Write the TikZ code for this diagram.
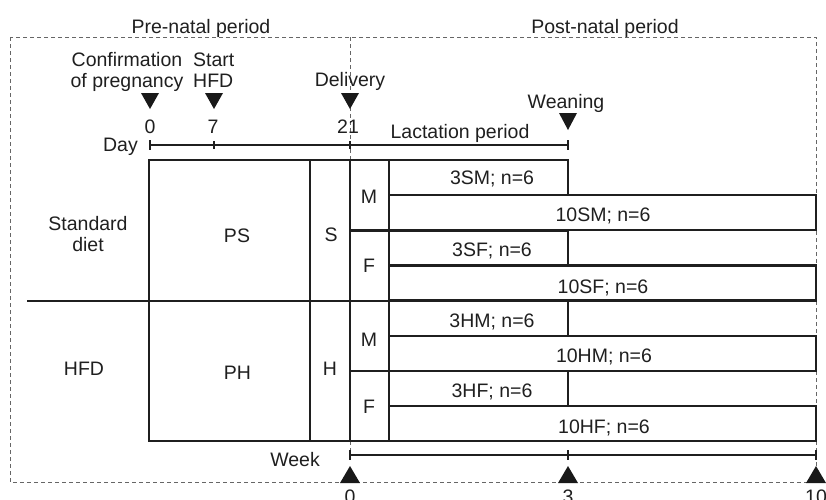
\documentclass[tikz,border=0pt]{standalone}
\usepackage{fontspec}
\setmainfont{Liberation Sans}
\begin{document}
\begin{tikzpicture}[x=1pt,y=-1pt,
  font=\fontsize{19.5}{21}\selectfont,
  boxline/.style={line width=2.7pt, draw=black!88, line cap=rect},
  axisline/.style={line width=2.4pt, draw=black!88},
  dashline/.style={draw=black!60, line width=0.9pt, dash pattern=on 4pt off 3pt},
  lbl/.style={inner sep=0pt, text=black!88, anchor=base},
  tri/.style={fill=black!90}]
\useasboundingbox (0,0) rectangle (826,499);

% dashed frame
\draw[dashline] (10,37) rectangle (816,482);
\draw[dashline] (350,37) -- (350,160);
\draw[dashline] (350,441) -- (350,455);

% titles
\node[lbl] (pre)  at (201,33) {Pre-natal period};
\node[lbl] (post) at (605,33) {Post-natal period};

% events
\node[lbl, align=center] (conf) at (127,87) {Confirmation\\of pregnancy};
\node[lbl, align=left, anchor=base west] (start) at (193,87) {Start\\HFD};
\node[lbl] (deliv) at (350,86) {Delivery};
\node[lbl] (wean) at (566,108) {Weaning};

% down triangles
\coordinate (t0) at (150,93);
\coordinate (t7) at (214,93);
\coordinate (t21) at (350,93);
\coordinate (tw) at (568,113);
\foreach \c in {t0,t7,t21}
  \fill[tri] ([xshift=-9pt]\c) -- ([xshift=9pt]\c) -- ([yshift=-16pt]\c) -- cycle;
\fill[tri] ([xshift=-9pt]tw) -- ([xshift=9pt]tw) -- ([yshift=-17pt]tw) -- cycle;

% day axis
\node[lbl] (d0) at (150,133) {0};
\node[lbl] (d7) at (213,133) {7};
\node[lbl] (d21) at (348,133) {21};
\node[lbl, anchor=base east] (day) at (138,151) {Day};
\node[lbl] (lact) at (460,138) {Lactation period};
\coordinate (a0) at (150,145);
\coordinate (a7) at (214,145);
\coordinate (a21) at (350,145);
\coordinate (aw) at (568,145);
\draw[axisline] (a0) -- (aw);
\draw[axisline] ([yshift=5pt]a0) -- ([yshift=-5pt]a0);
\draw[axisline] ([yshift=5pt]aw) -- ([yshift=-5pt]aw);
\draw[axisline] ([yshift=4pt]a7) -- ([yshift=-4pt]a7);
\draw[axisline] ([yshift=4pt]a21) -- ([yshift=-4pt]a21);

% main blocks
\draw[boxline] (149,160) rectangle (389,441);
\draw[boxline] (310,160) -- (310,441);
\draw[boxline] (350,160) -- (350,441);
\draw[boxline] (28,301) -- (389,301);
\draw[boxline] (350,230.5) -- (389,230.5);
\draw[boxline] (350,371) -- (389,371);

% group rows
\foreach \t in {160,230.5,301,371}{
  \draw[boxline] (389,\t) rectangle (568,\t+35);
  \draw[boxline] (389,\t+35) rectangle (816,\t+70);
}

% labels in blocks
\node[lbl, align=center] (std) at (88,251) {Standard\\diet};
\node[lbl] (hfd) at (84,375) {HFD};
\node[lbl] (ps) at (237,242) {PS};
\node[lbl] (ph) at (237.5,379) {PH};
\node[lbl] (s) at (331,241) {S};
\node[lbl] (h) at (330,375) {H};
\node[lbl] (m1) at (369,203) {M};
\node[lbl] (f1) at (369,272) {F};
\node[lbl] (m2) at (369,346) {M};
\node[lbl] (f2) at (369,413) {F};

\node[lbl] (g3sm)  at (492,184) {3SM; n=6};
\node[lbl] (g10sm) at (603,221) {10SM; n=6};
\node[lbl] (g3sf)  at (492,256) {3SF; n=6};
\node[lbl] (g10sf) at (603,293) {10SF; n=6};
\node[lbl] (g3hm)  at (492,327) {3HM; n=6};
\node[lbl] (g10hm) at (604,362) {10HM; n=6};
\node[lbl] (g3hf)  at (492,397) {3HF; n=6};
\node[lbl] (g10hf) at (604,433) {10HF; n=6};

% week axis
\node[lbl, anchor=base east] (week) at (320,466) {Week};
\coordinate (w0) at (350,455);
\coordinate (w3) at (568,455);
\coordinate (w10) at (816,455);
\draw[axisline] (w0) -- (w10);
\draw[axisline] ([yshift=5pt]w0) -- ([yshift=-5pt]w0);
\draw[axisline] ([yshift=5pt]w3) -- ([yshift=-5pt]w3);
\draw[axisline] ([yshift=5pt]w10) -- ([yshift=-5pt]w10);
\coordinate (u0) at (350,483);
\coordinate (u3) at (568,483);
\coordinate (u10) at (816,483);
\foreach \c in {u0,u3,u10}
  \fill[tri] ([xshift=-10pt]\c) -- ([xshift=10pt]\c) -- ([yshift=17pt]\c) -- cycle;
\node[lbl] (n0) at (350,503) {0};
\node[lbl] (n3) at (568,503) {3};
\node[lbl] (n10) at (816,503) {10};
\end{tikzpicture}
\end{document}
